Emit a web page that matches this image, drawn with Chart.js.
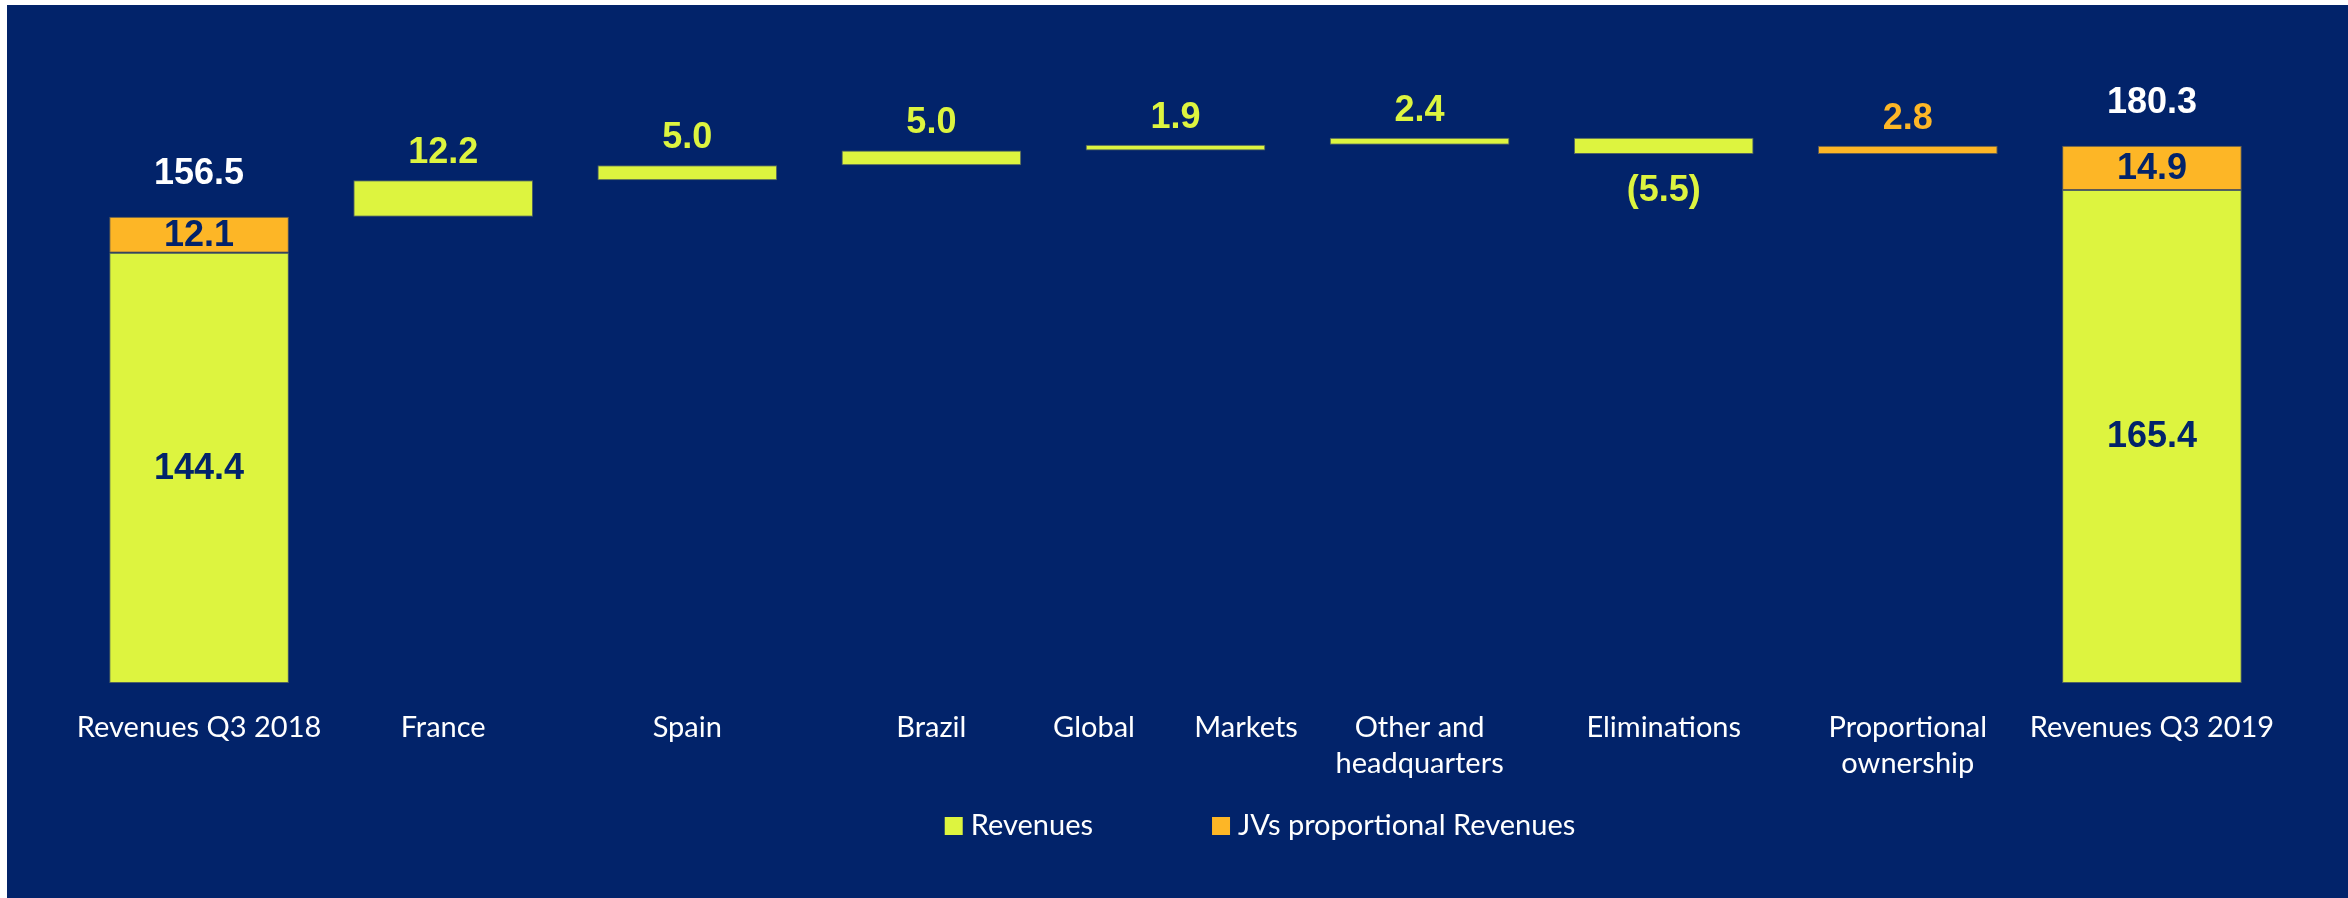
<!DOCTYPE html>
<html>
<head>
<meta charset="utf-8">
<title>Revenues Q3 2018 – Q3 2019</title>
<script src="https://cdn.jsdelivr.net/npm/chart.js@4.4.1/dist/chart.umd.min.js"></script>
<style>
  html, body { margin: 0; padding: 0; background: #ffffff; }
  #wrap { position: absolute; left: 7px; top: 5px; width: 2341px; height: 893px; }
</style>
</head>
<body>
<div id="wrap"><canvas id="chart"></canvas></div>
<script>
// Bridge categories; first and last are period totals, the rest are changes
const categories = [
  'Revenues Q3 2018',
  'France',
  'Spain',
  'Brazil',
  'Global        Markets',
  ['Other and', 'headquarters'],
  'Eliminations',
  ['Proportional', 'ownership'],
  'Revenues Q3 2019'
];
// Revenues: totals at both ends, changes in between (null = no bar)
const revenues = [144.4, 12.2, 5.0, 5.0, 1.9, 2.4, -5.5, null, 165.4];
// JVs proportional revenues: totals at both ends, change for proportional ownership
const jvRevenues = [12.1, null, null, null, null, null, null, 2.8, 14.9];

const seriesNames = ['Revenues', 'JVs proportional Revenues'];
const NAVY = '#02236A';
const GREEN = '#DDF43F';
const ORANGE = '#FDB626';

// Turn totals and changes into floating [start, end] ranges
function buildRanges() {
  const rev = [], jv = [];
  const last = categories.length - 1;
  let running = 0;
  categories.forEach((_, i) => {
    if (i === 0 || i === last) {
      const r = revenues[i], j = jvRevenues[i];
      rev.push([0, r]);
      jv.push([r, r + j]);
      running = r + j;
    } else {
      if (revenues[i] !== null) {
        rev.push([running, running + revenues[i]]);
        running += revenues[i];
      } else rev.push(null);
      if (jvRevenues[i] !== null) {
        jv.push([running, running + jvRevenues[i]]);
        running += jvRevenues[i];
      } else jv.push(null);
    }
  });
  return { rev, jv };
}
const ranges = buildRanges();

const fmt = v => Math.abs(v).toFixed(1);

// Navy panel behind everything
const panel = {
  id: 'panel',
  beforeDraw(chart) {
    const { ctx, width, height } = chart;
    ctx.save();
    ctx.fillStyle = NAVY;
    ctx.fillRect(0, 0, width, height);
    ctx.restore();
  }
};

// Value labels on, above and below the bars
const valueLabels = {
  id: 'valueLabels',
  afterDatasetsDraw(chart) {
    const ctx = chart.ctx;
    const last = categories.length - 1;
    const sources = [revenues, jvRevenues];
    ctx.save();
    ctx.font = 'bold 36px "Liberation Sans", Arial, sans-serif';
    ctx.textAlign = 'center';
    ctx.textBaseline = 'middle';
    chart.data.datasets.forEach((ds, di) => {
      const meta = chart.getDatasetMeta(di);
      meta.data.forEach((bar, i) => {
        const v = sources[di][i];
        if (v === null || v === undefined) return;
        const top = Math.min(bar.y, bar.base);
        const bottom = Math.max(bar.y, bar.base);
        if (i === 0 || i === last) {
          ctx.fillStyle = NAVY;
          ctx.fillText(fmt(v), bar.x, (top + bottom) / 2 + 1);
        } else if (v >= 0) {
          ctx.fillStyle = ds.backgroundColor;
          ctx.fillText(fmt(v), bar.x, top - 27);
        } else {
          ctx.fillStyle = ds.backgroundColor;
          ctx.fillText('(' + fmt(v) + ')', bar.x, bottom + 37);
        }
      });
    });
    // Period totals above the stacked bars
    const jvMeta = chart.getDatasetMeta(1);
    [0, last].forEach(i => {
      const bar = jvMeta.data[i];
      const total = revenues[i] + jvRevenues[i];
      ctx.fillStyle = '#FFFFFF';
      ctx.fillText(fmt(total), bar.x, Math.min(bar.y, bar.base) - 43);
    });
    ctx.restore();
  }
};

// Legend row under the category labels
const legendRow = {
  id: 'legendRow',
  afterDraw(chart) {
    const ctx = chart.ctx;
    const colors = [GREEN, ORANGE];
    const box = 18, gap = 8, spacing = 119;
    const cy = 821;
    ctx.save();
    ctx.font = '29px Lato, "Noto Sans", sans-serif';
    ctx.textBaseline = 'middle';
    ctx.textAlign = 'left';
    const widths = seriesNames.map(n => box + gap + ctx.measureText(n).width);
    const total = widths.reduce((a, b) => a + b, 0) + spacing * (widths.length - 1);
    let x = 1253 - total / 2;
    seriesNames.forEach((name, k) => {
      ctx.fillStyle = colors[k];
      ctx.fillRect(x, cy - box / 2, box, box);
      ctx.fillStyle = '#FFFFFF';
      ctx.fillText(name, x + box + gap, cy);
      x += widths[k] + spacing;
    });
    ctx.restore();
  }
};

new Chart(document.getElementById('chart'), {
  type: 'bar',
  data: {
    labels: categories,
    datasets: [
      {
        label: seriesNames[0],
        data: ranges.rev,
        backgroundColor: GREEN,
        borderColor: 'rgba(95,110,95,0.85)',
        borderWidth: 1,
        borderSkipped: false,
        barPercentage: 0.736,
        categoryPercentage: 1.0
      },
      {
        label: seriesNames[1],
        data: ranges.jv,
        backgroundColor: ORANGE,
        borderColor: 'rgba(110,100,80,0.85)',
        borderWidth: 1,
        borderSkipped: false,
        barPercentage: 0.736,
        categoryPercentage: 1.0
      }
    ]
  },
  options: {
    responsive: true,
    maintainAspectRatio: false,
    animation: false,
    layout: { padding: { left: 70, right: 74, top: 82, bottom: 0 } },
    plugins: {
      legend: { display: false },
      tooltip: { enabled: false }
    },
    scales: {
      x: {
        stacked: true,
        grid: { display: false, drawTicks: false },
        border: { display: false },
        ticks: {
          color: '#FFFFFF',
          font: { family: 'Lato, "Noto Sans", sans-serif', size: 29, lineHeight: 1.24 },
          padding: 27,
          maxRotation: 0,
          autoSkip: false
        },
        afterFit(scale) { scale.height = 215; }
      },
      y: {
        display: false,
        stacked: false,
        min: 0,
        max: 200
      }
    }
  },
  plugins: [panel, valueLabels, legendRow]
});
</script>
</body>
</html>
